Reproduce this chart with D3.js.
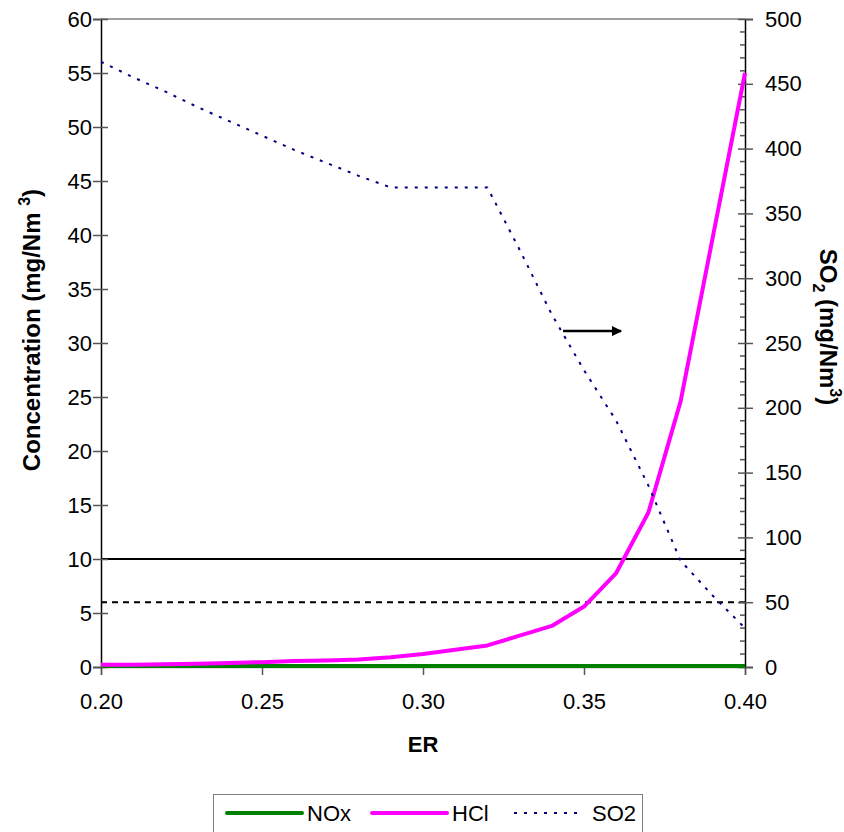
<!DOCTYPE html>
<html>
<head>
<meta charset="utf-8">
<script src="https://cdnjs.cloudflare.com/ajax/libs/d3/7.8.5/d3.min.js"></script>
<style>
body { margin: 0; background: #fff; }
svg { font-family: "Liberation Sans", Arial, sans-serif; }
</style>
</head>
<body>
<script>
var er = [0.20, 0.21, 0.22, 0.23, 0.24, 0.25, 0.26, 0.27, 0.28, 0.29, 0.30,
	0.31, 0.32, 0.33, 0.34, 0.35, 0.36, 0.37, 0.38, 0.39, 0.40];
var nox = [0.1, 0.1, 0.1, 0.1, 0.1, 0.1, 0.1, 0.1, 0.1, 0.1, 0.1,
	0.1, 0.1, 0.1, 0.1, 0.1, 0.1, 0.1, 0.1, 0.1, 0.1];
var hcl = [0.2, 0.2, 0.25, 0.3, 0.38, 0.45, 0.55, 0.6, 0.7, 0.9, 1.2,
	1.6, 2.0, 2.9, 3.8, 5.6, 8.7, 14.3, 24.6, 39.8, 55.0];
var so2 = [467, 455, 444, 432, 421, 410, 399, 389, 379, 370, 370,
	370, 370, 322, 272, 229, 190, 140, 82, 55, 30];
var limits = [10, 6];
var leftTicks = d3.range(0, 61, 5);
var rightTicks = d3.range(0, 501, 50);
var xTicks = [0.20, 0.25, 0.30, 0.35, 0.40];
var legendNames = ["NOx", "HCl", "SO2"];

var width = 844, height = 832;
var margin = { top: 19, right: 99, bottom: 165, left: 101 };

var x = d3.scaleLinear().domain([0.20, 0.40]).range([margin.left, width - margin.right]);
var yL = d3.scaleLinear().domain([0, 60]).range([height - margin.bottom, margin.top]);
var yR = d3.scaleLinear().domain([0, 500]).range([height - margin.bottom, margin.top]);

var svg = d3.select("body").append("svg")
	.attr("width", width)
	.attr("height", height);

// plot frame (top border)
svg.append("line")
	.attr("x1", x(0.20)).attr("x2", x(0.40))
	.attr("y1", yL(60)).attr("y2", yL(60))
	.attr("stroke", "#808080").attr("stroke-width", 1.5);

// limit lines
svg.selectAll(".limit")
	.data(limits)
	.enter().append("line")
	.attr("class", "limit")
	.attr("x1", x(0.20)).attr("x2", x(0.40))
	.attr("y1", function (d) { return yL(d); })
	.attr("y2", function (d) { return yL(d); })
	.attr("stroke", "#000")
	.attr("stroke-width", 2)
	.attr("stroke-dasharray", function (d, i) { return i == 0 ? null : "6,5"; });

// axes
var fs = "22px", tfs = "24px";
var gx = svg.append("g")
	.attr("transform", "translate(0," + yL(0) + ")")
	.call(d3.axisBottom(x).tickValues(xTicks).tickFormat(d3.format(".2f")).tickSize(8).tickPadding(18));
gx.select(".domain").attr("stroke", "#808080").attr("stroke-width", 1.5);
gx.selectAll(".tick line").attr("stroke", "#555").attr("stroke-width", 1.5);

var gl = svg.append("g")
	.attr("transform", "translate(" + x(0.20) + ",0)")
	.call(d3.axisLeft(yL).tickValues(leftTicks).tickSize(8).tickPadding(1));
gl.select(".domain").attr("stroke", "#000").attr("stroke-width", 1.5);
gl.selectAll(".tick line").attr("x2", 7).attr("x1", -8).attr("stroke", "#555").attr("stroke-width", 1.5);

var gr = svg.append("g")
	.attr("transform", "translate(" + x(0.40) + ",0)")
	.call(d3.axisRight(yR).tickValues(rightTicks).tickSize(8).tickPadding(12));
gr.select(".domain").attr("stroke", "#000").attr("stroke-width", 1.5);
gr.selectAll(".tick line").attr("x1", -7).attr("x2", 8).attr("stroke", "#555").attr("stroke-width", 1.5);

// minor ticks on the right axis
svg.append("g").selectAll("line")
	.data(d3.range(0, 501, 10).filter(function (d) { return d % 50 != 0; }))
	.enter().append("line")
	.attr("x1", x(0.40) - 5).attr("x2", x(0.40))
	.attr("y1", function (d) { return yR(d); })
	.attr("y2", function (d) { return yR(d); })
	.attr("stroke", "#555").attr("stroke-width", 1.5);

svg.selectAll(".tick text").attr("font-size", fs).attr("fill", "#000")
	.attr("font-family", "Liberation Sans, Arial, sans-serif");

// series
var line = function (yScale, vals) {
	return d3.line()
		.x(function (d, i) { return x(er[i]); })
		.y(function (d) { return yScale(d); })(vals);
};

svg.append("path").attr("d", line(yL, nox))
	.attr("fill", "none").attr("stroke", "#008000").attr("stroke-width", 4);
svg.append("path").attr("d", line(yL, hcl))
	.attr("fill", "none").attr("stroke", "#ff00ff").attr("stroke-width", 4)
	.attr("stroke-linejoin", "round");
svg.append("path").attr("d", line(yR, so2))
	.attr("fill", "none").attr("stroke", "#000080").attr("stroke-width", 2)
	.attr("stroke-dasharray", "3,7");

// arrow showing SO2 reads on the right axis
svg.append("defs").append("marker")
	.attr("id", "arr")
	.attr("viewBox", "0 0 10 10")
	.attr("refX", 9).attr("refY", 5)
	.attr("markerWidth", 4).attr("markerHeight", 4)
	.attr("orient", "auto")
	.append("path").attr("d", "M0,0L10,5L0,10z").attr("fill", "#000");
svg.append("line")
	.attr("x1", x(0.3435)).attr("x2", x(0.3615))
	.attr("y1", yL(31.1)).attr("y2", yL(31.1))
	.attr("stroke", "#000").attr("stroke-width", 2.5)
	.attr("marker-end", "url(#arr)");

// axis titles
svg.append("text")
	.attr("transform", "translate(" + 40 + "," + 330 + ")rotate(-90)")
	.attr("text-anchor", "middle")
	.attr("font-size", tfs).attr("font-weight", "bold")
	.html('Concentration (mg/Nm <tspan dy="-10" font-size="16px">3</tspan><tspan dy="10">)</tspan>');

svg.append("text")
	.attr("transform", "translate(" + 820 + "," + 327 + ")rotate(90)")
	.attr("text-anchor", "middle")
	.attr("font-size", tfs).attr("font-weight", "bold")
	.html('SO<tspan dy="7" font-size="16px">2</tspan><tspan dy="-7"> (mg/Nm</tspan><tspan dy="-10" font-size="16px">3</tspan><tspan dy="10">)</tspan>');

svg.append("text")
	.attr("x", x(0.30)).attr("y", 752)
	.attr("text-anchor", "middle")
	.attr("font-size", fs).attr("font-weight", "bold")
	.text("ER");

// legend
var lg = svg.append("g");
lg.append("rect")
	.attr("x", 213.5).attr("y", 794.5)
	.attr("width", 429).attr("height", 50)
	.attr("fill", "#fff").attr("stroke", "#808080").attr("stroke-width", 1);
var lx = [227, 372, 514];
var lstyle = [
	{ c: "#008000", w: 4, d: null },
	{ c: "#ff00ff", w: 4, d: null },
	{ c: "#000080", w: 2, d: "3,7" }
];
var item = lg.selectAll(".item")
	.data(legendNames)
	.enter().append("g")
	.attr("class", "item")
	.attr("transform", function (d, i) { return "translate(" + lx[i] + ",813)"; });
item.append("line")
	.attr("x1", 0).attr("x2", function (d, i) { return i == 2 ? 70 : 75; })
	.attr("stroke", function (d, i) { return lstyle[i].c; })
	.attr("stroke-width", function (d, i) { return lstyle[i].w; })
	.attr("stroke-dasharray", function (d, i) { return lstyle[i].d; })
	.attr("stroke-linecap", function (d, i) { return i == 2 ? "butt" : "round"; });
item.append("text")
	.attr("x", function (d, i) { return i == 2 ? 78 : 80; })
	.attr("dy", "0.35em")
	.attr("font-size", fs)
	.text(function (d) { return d; });
</script>
</body>
</html>
